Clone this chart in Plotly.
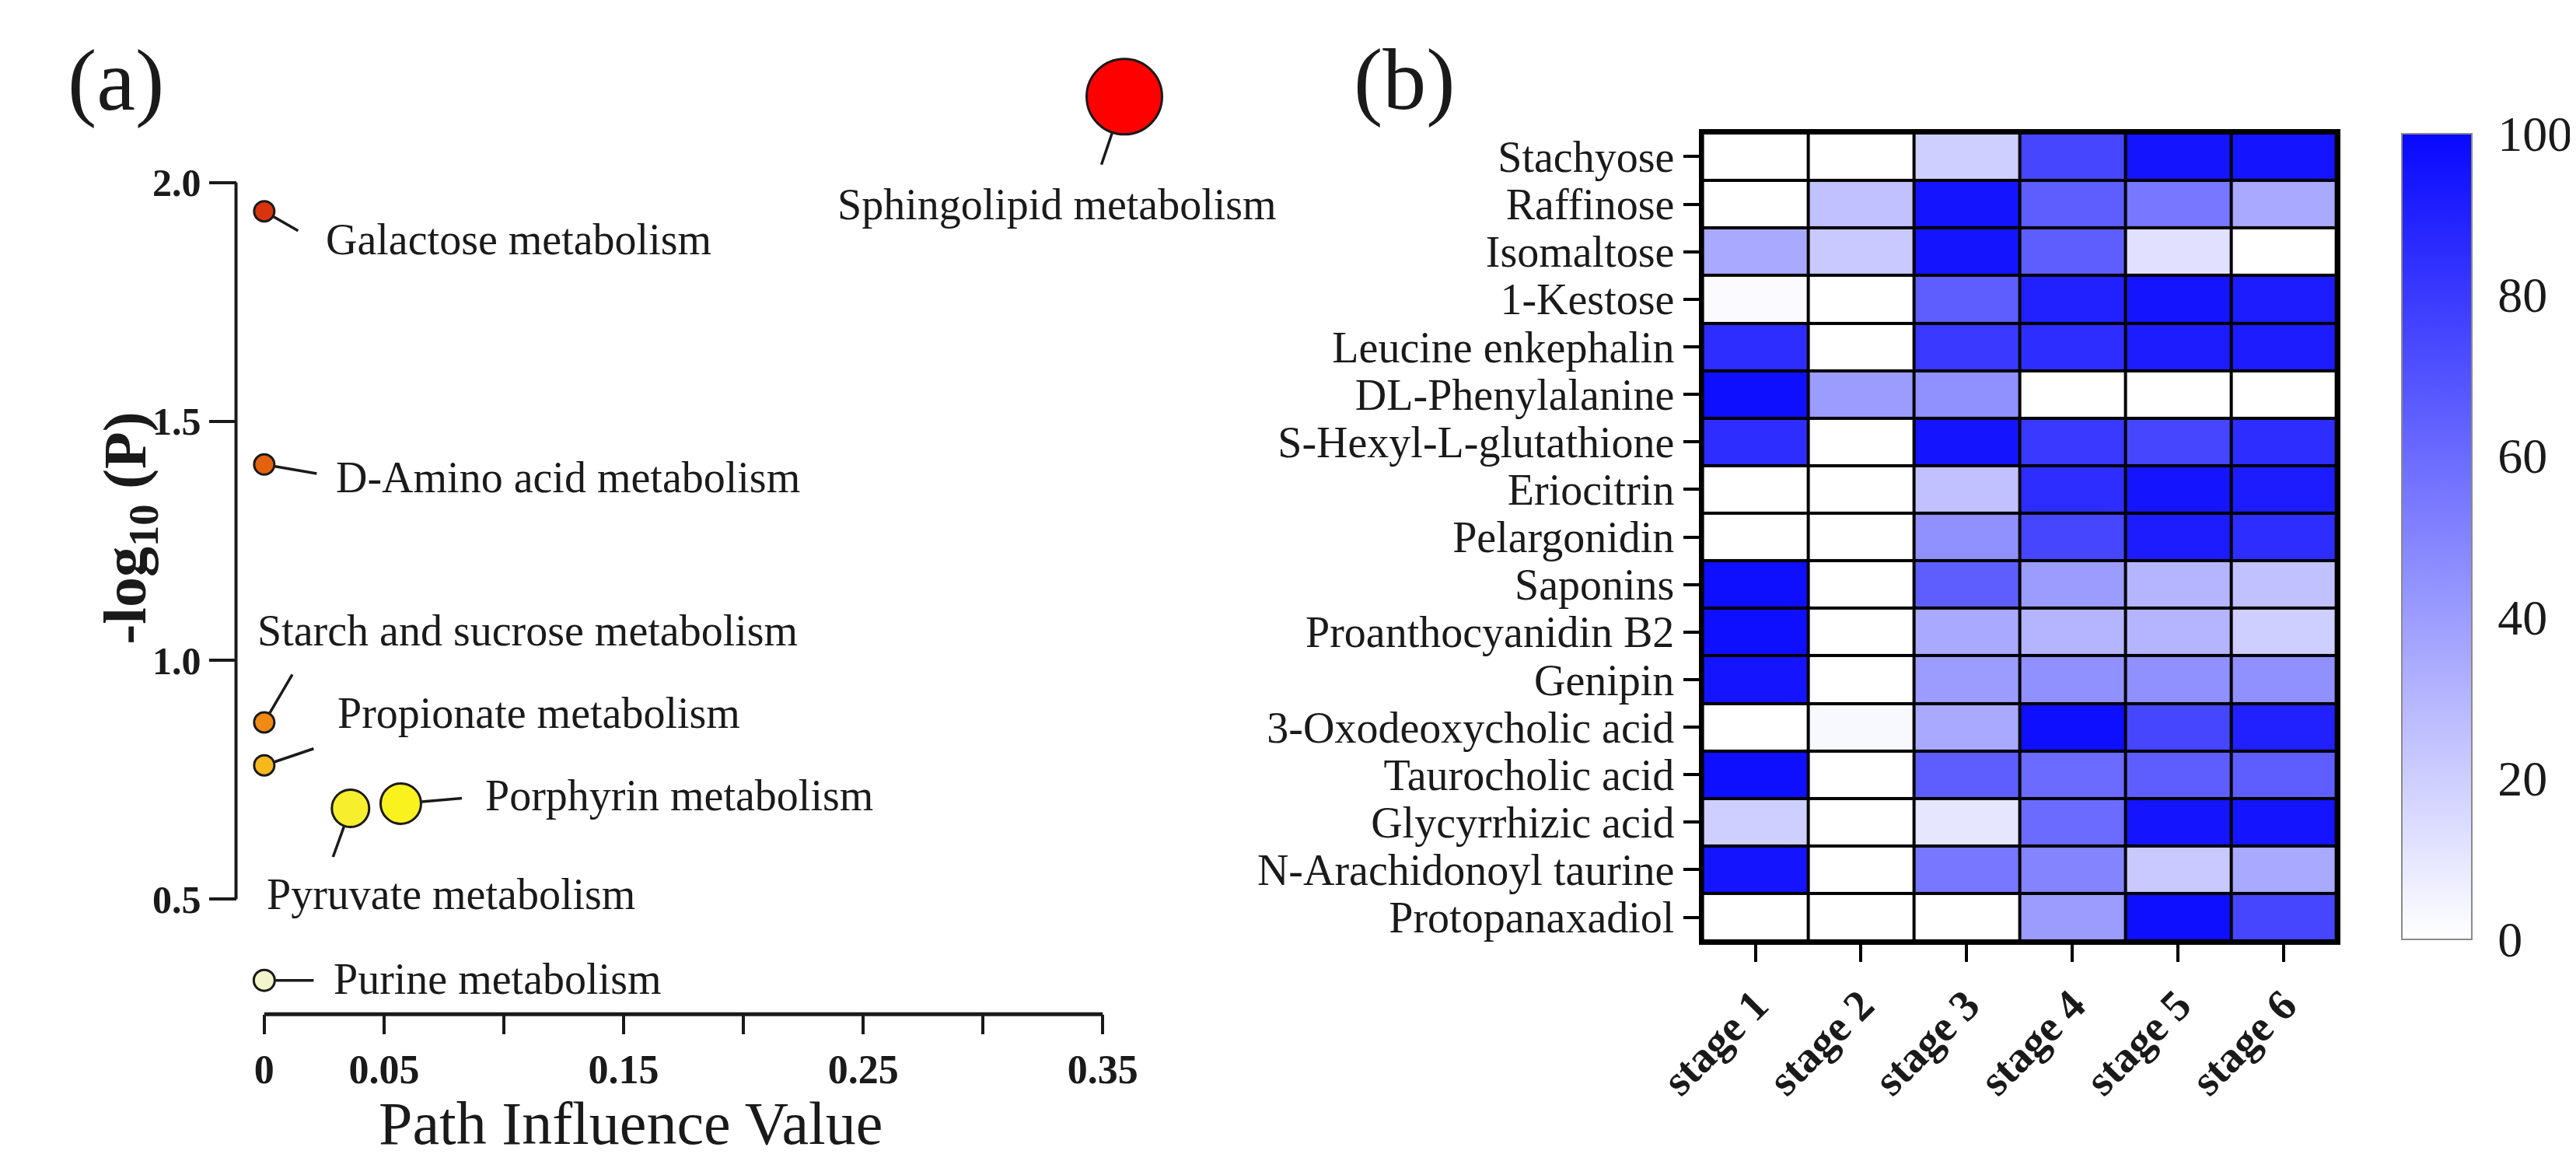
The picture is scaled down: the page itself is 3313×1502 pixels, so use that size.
import plotly.graph_objects as go

W, H = 3313, 1502

# ---------------- Panel (a) data ----------------
pathways = ["Sphingolipid metabolism", "Galactose metabolism", "D-Amino acid metabolism",
            "Starch and sucrose metabolism", "Propionate metabolism", "Porphyrin metabolism",
            "Pyruvate metabolism", "Purine metabolism"]
impact = [0.359, 0.0, 0.0, 0.0, 0.0, 0.057, 0.036, 0.0]
neglogp = [2.18, 1.94, 1.41, 0.87, 0.78, 0.70, 0.69, 0.33]

x_ticks = [0, 0.05, 0.15, 0.25, 0.35]
x_ticktext = ["0", "0.05", "0.15", "0.25", "0.35"]
x_minor_ticks = [0.10, 0.20, 0.30]
y_ticks = [0.5, 1.0, 1.5, 2.0]
y_ticktext = ["0.5", "1.0", "1.5", "2.0"]

# ---------------- Panel (b) data ----------------
stages = ["stage 1", "stage 2", "stage 3", "stage 4", "stage 5", "stage 6"]
compounds = ["Stachyose", "Raffinose", "Isomaltose", "1-Kestose", "Leucine enkephalin",
             "DL-Phenylalanine", "S-Hexyl-L-glutathione", "Eriocitrin", "Pelargonidin",
             "Saponins", "Proanthocyanidin B2", "Genipin", "3-Oxodeoxycholic acid",
             "Taurocholic acid", "Glycyrrhizic acid", "N-Arachidonoyl taurine", "Protopanaxadiol"]
stachyose = [0, 0, 20, 75, 95, 95]
raffinose = [0, 25, 95, 65, 55, 35]
isomaltose = [35, 22, 95, 65, 12, 0]
kestose = [2, 0, 65, 90, 95, 92]
leucine_enkephalin = [85, 0, 80, 85, 92, 92]
dl_phenylalanine = [97, 40, 45, 0, 0, 0]
s_hexyl_glutathione = [85, 0, 95, 80, 75, 85]
eriocitrin = [0, 0, 25, 85, 95, 92]
pelargonidin = [0, 0, 45, 75, 92, 85]
saponins = [97, 0, 65, 40, 30, 25]
proanthocyanidin_b2 = [97, 0, 35, 30, 30, 20]
genipin = [95, 0, 40, 45, 45, 45]
oxodeoxycholic = [0, 3, 35, 97, 75, 90]
taurocholic = [97, 0, 65, 60, 65, 65]
glycyrrhizic = [20, 0, 10, 60, 95, 95]
arachidonoyl_taurine = [95, 0, 55, 50, 22, 35]
protopanaxadiol = [0, 0, 0, 40, 97, 75]
colorbar_ticks = [0, 20, 40, 60, 80, 100]

heat_rows = [stachyose, raffinose, isomaltose, kestose, leucine_enkephalin, dl_phenylalanine,
             s_hexyl_glutathione, eriocitrin, pelargonidin, saponins, proanthocyanidin_b2,
             genipin, oxodeoxycholic, taurocholic, glycyrrhizic, arachidonoyl_taurine,
             protopanaxadiol]

# ---------------- styles ----------------
node_size = [97, 26, 26, 26, 26, 52, 48, 27]
node_color = ["#ff0000", "#d8340e", "#e4620e", "#f08a12", "#f6b81c", "#f9f21e", "#f7ef2e", "#f4f4cc"]
# (leader tail dx, dy, label xshift, yshift, xanchor) in pixels relative to each node
label_layout = {
    "Sphingolipid metabolism": (-30, 89, -87, -139, "center"),
    "Galactose metabolism": (45, 26, 77, -36, "left"),
    "D-Amino acid metabolism": (69, 12, 90, -17, "left"),
    "Starch and sucrose metabolism": (37, -63, -11, 118, "left"),
    "Propionate metabolism": (65, -22, 92, 67, "left"),
    "Porphyrin metabolism": (80, -7, 107, 10, "left"),
    "Pyruvate metabolism": (-23, 64, -110, -110, "left"),
    "Purine metabolism": (65, 0, 87, 2, "left"),
}

SERIF = "Liberation Serif"
INK = "#1a1a1a"

# panel (a) frame, in pixels: where the first/last ticks of each axis sit
XA_LEFT, XA_RIGHT, XA_Y = 275, 1374, 1297     # x axis: 0 -> 0.35, drawn at y=1297
YA_TOP, YA_BOT, YA_X = 227, 1149, 238         # y axis: 2.0 -> 0.5, drawn at x=238
# colour bar frame, in pixels
CB_LEFT, CB_W, CB_TOP, CB_LEN = 3077, 90, 164, 1036


def px(x):
    return x / W


def py(y):
    return 1 - y / H


# data scales of panel (a) (pixels per unit)
sx = (XA_RIGHT - XA_LEFT) / (x_ticks[-1] - x_ticks[0])
sy = (YA_BOT - YA_TOP) / (y_ticks[-1] - y_ticks[0])
x_range = [-0.012, 0.37]
y_range = [0.25, 2.30]
x_dom = [px(XA_LEFT + (x_range[0] - x_ticks[0]) * sx), px(XA_LEFT + (x_range[1] - x_ticks[0]) * sx)]
y_dom = [py(YA_BOT + (y_ticks[0] - y_range[0]) * sy), py(YA_TOP - (y_range[1] - y_ticks[-1]) * sy)]

fig = go.Figure()

fig.add_trace(go.Scatter(
    x=impact, y=neglogp, mode="markers", xaxis="x", yaxis="y",
    marker=dict(size=node_size, color=node_color, opacity=1, line=dict(color=INK, width=3)),
    cliponaxis=False, showlegend=False, hoverinfo="text", text=pathways,
))

fig.add_trace(go.Heatmap(
    z=heat_rows, x=stages, y=compounds, xaxis="x2", yaxis="y2",
    zmin=colorbar_ticks[0], zmax=colorbar_ticks[-1], xgap=4, ygap=4,
    colorscale=[[0, "#ffffff"], [1, "#0808ff"]],
    colorbar=dict(
        x=px(CB_LEFT), xanchor="left", y=py(CB_TOP + CB_LEN / 2), yanchor="middle",
        len=CB_LEN, lenmode="pixels", thickness=CB_W, thicknessmode="pixels",
        outlinewidth=2, outlinecolor="#8a8a8a", xpad=0, ypad=0,
        ticks="outside", ticklen=20, tickwidth=1, tickcolor="rgba(0,0,0,0)",
        tickvals=colorbar_ticks,
        tickfont=dict(family=SERIF, size=64, color=INK),
    ),
))

annotations = []
for i, name in enumerate(pathways):
    tdx, tdy, lx, ly, anc = label_layout[name]
    annotations.append(dict(
        x=impact[i], y=neglogp[i], xref="x", yref="y", text="",
        showarrow=True, arrowhead=0, arrowwidth=3.5, arrowcolor=INK,
        ax=tdx, ay=tdy, standoff=node_size[i] / 2 + 1,
    ))
    annotations.append(dict(
        x=impact[i], y=neglogp[i], xref="x", yref="y", text=name,
        showarrow=False, xshift=lx, yshift=ly, xanchor=anc, yanchor="middle",
        font=dict(family=SERIF, size=56, color=INK),
    ))

annotations += [
    dict(x=px(755), y=py(1437), xref="paper", yref="paper", text="Path Influence Value",
         showarrow=False, xanchor="center", yanchor="middle",
         font=dict(family=SERIF, size=78, color=INK)),
    dict(x=px(97), y=py(672), xref="paper", yref="paper", text="<b>-log<sub>10</sub> (P)</b>",
         showarrow=False, textangle=-90, xanchor="center", yanchor="middle",
         font=dict(family=SERIF, size=78, color=INK)),
    dict(x=px(80), y=py(95), xref="paper", yref="paper", text="(a)",
         showarrow=False, xanchor="center", yanchor="middle",
         font=dict(family=SERIF, size=112, color=INK)),
    dict(x=px(1770), y=py(94), xref="paper", yref="paper", text="(b)",
         showarrow=False, xanchor="center", yanchor="middle",
         font=dict(family=SERIF, size=112, color=INK)),
]

shapes = [
    # black grid behind the heatmap cells
    dict(type="rect", xref="x2 domain", yref="y2 domain", x0=0, x1=1, y0=0, y1=1,
         fillcolor="#000000", line=dict(width=0), layer="below"),
    # panel (a) axis lines, spanning only the ticked ranges
    dict(type="line", xref="x", yref="paper", x0=x_ticks[0], x1=x_ticks[-1],
         y0=py(XA_Y), y1=py(XA_Y), line=dict(color=INK, width=5)),
    dict(type="line", xref="paper", yref="y", x0=px(YA_X), x1=px(YA_X),
         y0=y_ticks[0], y1=y_ticks[-1], line=dict(color=INK, width=4)),
]
# small inner tick marks on both edges of the colour bar
cb_span = colorbar_ticks[-1] - colorbar_ticks[0]
for v in colorbar_ticks[1:-1]:
    yy = py(CB_TOP + CB_LEN * (colorbar_ticks[-1] - v) / cb_span)
    for xa, xb in ((CB_LEFT, CB_LEFT + 12), (CB_LEFT + CB_W - 12, CB_LEFT + CB_W)):
        shapes.append(dict(type="line", xref="paper", yref="paper", x0=px(xa), x1=px(xb),
                           y0=yy, y1=yy, line=dict(color="#555555", width=2.5)))

fig.update_layout(
    width=W, height=H, margin=dict(l=0, r=0, t=0, b=0),
    paper_bgcolor="white", plot_bgcolor="white", showlegend=False,
    annotations=annotations, shapes=shapes,
    xaxis=dict(
        domain=x_dom, range=x_range, anchor="free", position=py(XA_Y),
        showline=False, showgrid=False, zeroline=False,
        ticks="outside", ticklen=25, tickwidth=4, tickcolor=INK,
        tickmode="array", tickvals=x_ticks,
        ticktext=["<b>%s</b>" % t for t in x_ticktext],
        tickfont=dict(family=SERIF, size=52, color=INK),
        minor=dict(tickmode="array", tickvals=x_minor_ticks, ticks="outside",
                   ticklen=25, tickwidth=4, tickcolor=INK, showgrid=False),
    ),
    yaxis=dict(
        domain=y_dom, range=y_range, anchor="free", position=px(YA_X),
        showline=False, showgrid=False, zeroline=False,
        ticks="outside", ticklen=35, tickwidth=4, tickcolor=INK,
        tickmode="array", tickvals=y_ticks, ticktext=["<b>%s</b>" % t for t in y_ticktext],
        tickfont=dict(family=SERIF, size=50, color=INK),
    ),
    xaxis2=dict(
        domain=[px(2160), px(2991)], anchor="y2",
        showline=True, mirror=True, linewidth=5, linecolor="#000",
        showgrid=False, zeroline=False,
        ticks="outside", ticklen=22, tickwidth=4, tickcolor="#000", tickangle=-45,
        tickmode="array", tickvals=stages, ticktext=stages,
        tickfont=dict(family=SERIF, size=56, color=INK, weight="bold"),
    ),
    yaxis2=dict(
        domain=[py(1203), py(163)], anchor="x2", autorange="reversed",
        showline=True, mirror=True, linewidth=5, linecolor="#000",
        showgrid=False, zeroline=False,
        ticks="outside", ticklen=20, tickwidth=4, tickcolor="#000",
        tickmode="array", tickvals=compounds, ticktext=compounds,
        tickfont=dict(family=SERIF, size=56, color=INK),
    ),
)

fig.write_html("out.html")
